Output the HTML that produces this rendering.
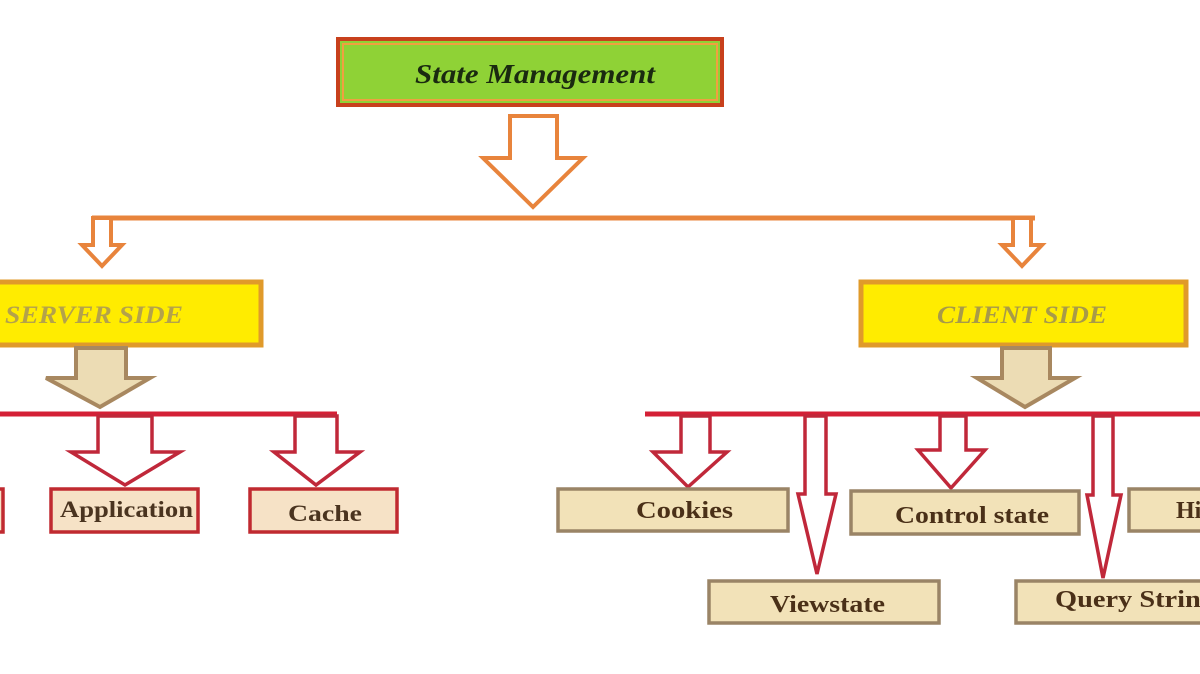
<!DOCTYPE html>
<html><head><meta charset="utf-8"><style>
html,body{margin:0;padding:0;background:#fff;width:1200px;height:674px;overflow:hidden}
svg text{font-family:"Liberation Serif",serif;font-weight:bold}
</style></head><body>
<svg width="1200" height="674" viewBox="0 0 1200 674" xmlns="http://www.w3.org/2000/svg">
<rect width="1200" height="674" fill="#fff"/>
<rect x="338" y="39" width="384" height="66" fill="#8fd236" stroke="#c8401c" stroke-width="4"/>
<rect x="343" y="44" width="374" height="56" fill="none" stroke="#f0a040" stroke-width="2"/>
<text x="415" y="83" font-size="27" font-style="italic" textLength="240" lengthAdjust="spacingAndGlyphs" fill="#1a2a10">State Management</text>
<polygon points="510,116 557,116 557,158 583,158 533,207 483,158 510,158" fill="#fff" stroke="#e8843c" stroke-width="4"/>
<line x1="92" y1="218" x2="1035" y2="218" stroke="#e8843c" stroke-width="5"/>
<polygon points="93,218 111,218 111,245 122,245 102,266 82,245 93,245" fill="#fff" stroke="#e8843c" stroke-width="4"/>
<polygon points="1013,218 1031,218 1031,245 1042,245 1022,266 1002,245 1013,245" fill="#fff" stroke="#e8843c" stroke-width="4"/>
<rect x="-6" y="282" width="267" height="63" fill="#ffec00" stroke="#e09a2a" stroke-width="5"/>
<text x="5" y="323" font-size="25" font-style="italic" textLength="178" lengthAdjust="spacingAndGlyphs" fill="#b4a24a" font-weight="normal">SERVER SIDE</text>
<rect x="861" y="282" width="325" height="63" fill="#ffec00" stroke="#e09a2a" stroke-width="5"/>
<text x="937" y="323" font-size="25" font-style="italic" textLength="170" lengthAdjust="spacingAndGlyphs" fill="#a89a48" font-weight="normal">CLIENT SIDE</text>
<polygon points="76,348 126,348 126,378 150,378 100,407 46,378 76,378" fill="#ecdcb4" stroke="#a88860" stroke-width="4"/>
<polygon points="1002,348 1050,348 1050,378 1075,378 1025,407 977,378 1002,378" fill="#ecdcb4" stroke="#a88860" stroke-width="4"/>
<line x1="0" y1="414" x2="337" y2="414" stroke="#d42036" stroke-width="5"/>
<line x1="645" y1="414" x2="1200" y2="414" stroke="#d42036" stroke-width="5"/>
<g fill="#fff" stroke="#c0283a" stroke-width="3.5">
<polygon points="98,416 152,416 152,452 180,452 125,485 71,452 98,452"/>
<polygon points="295,416 337,416 337,452 360,452 316,485 274,452 295,452"/>
<polygon points="681,416 710,416 710,452 727,452 688,487 653,452 681,452"/>
<polygon points="805,416 826,416 826,494 836,494 817,574 798,494 805,494"/>
<polygon points="940,416 966,416 966,450 985,450 951,488 918,450 940,450"/>
<polygon points="1093,416 1113,416 1113,495 1121,495 1103,578 1087,495 1093,495"/>
</g>
<g fill="#f6e2c6" stroke="#c02a30" stroke-width="3.5">
<rect x="-10" y="489" width="13" height="43"/>
<rect x="51" y="489" width="147" height="43"/>
<rect x="250" y="489" width="147" height="43"/>
</g>
<g font-size="23" fill="#4a3420" lengthAdjust="spacingAndGlyphs">
<text x="60" y="517" textLength="133" lengthAdjust="spacingAndGlyphs">Application</text>
<text x="288" y="521" textLength="74" lengthAdjust="spacingAndGlyphs">Cache</text>
</g>
<g fill="#f2e2b8" stroke="#9a8466" stroke-width="3.5">
<rect x="558" y="489" width="230" height="42"/>
<rect x="851" y="491" width="228" height="43"/>
<rect x="1129" y="489" width="80" height="42"/>
<rect x="709" y="581" width="230" height="42"/>
<rect x="1016" y="581" width="200" height="42"/>
</g>
<g font-size="24" fill="#4a3018">
<text x="636" y="518" textLength="97" lengthAdjust="spacingAndGlyphs">Cookies</text>
<text x="895" y="523" textLength="154" lengthAdjust="spacingAndGlyphs">Control state</text>
<text x="1176" y="518">Hi</text>
<text x="770" y="612" textLength="115" lengthAdjust="spacingAndGlyphs">Viewstate</text>
<text x="1055" y="607" textLength="160" lengthAdjust="spacingAndGlyphs">Query String</text>
</g>
</svg>
</body></html>
